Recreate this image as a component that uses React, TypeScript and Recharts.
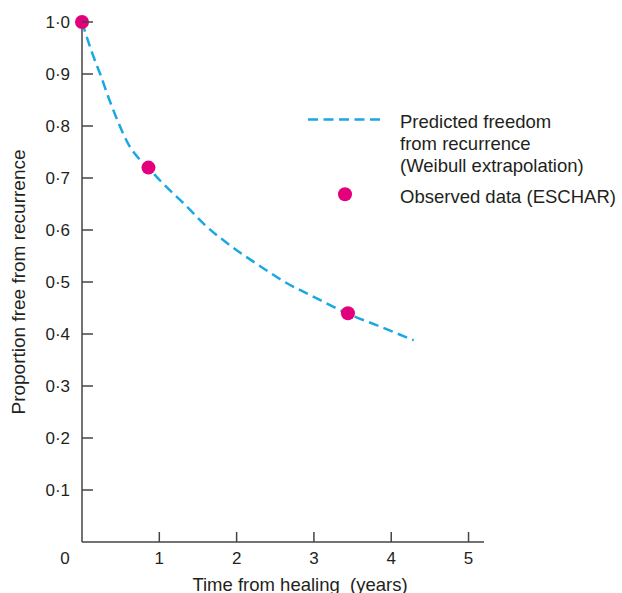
import {
  ComposedChart,
  Legend,
  Line,
  Scatter,
  XAxis,
  YAxis,
} from "recharts";

// Weibull curve
const curveYears = [0, 0.13, 0.24, 0.35, 0.475, 0.6, 0.75, 0.86, 1.03, 1.35, 1.61, 1.91, 2.32, 2.6, 2.99, 3.44, 3.81, 4.29];
const curveFree = [1.0, 0.941, 0.898, 0.852, 0.805, 0.765, 0.735, 0.719, 0.692, 0.646, 0.607, 0.571, 0.529, 0.502, 0.472, 0.439, 0.417, 0.388];

// ESCHAR observations
const observedYears = [0, 0.86, 3.44];
const observedFree = [1.0, 0.72, 0.44];

const xTicks = [0, 1, 2, 3, 4, 5];
const yTicks = [0.1, 0.2, 0.3, 0.4, 0.5, 0.6, 0.7, 0.8, 0.9, 1.0];

const lineLabel = ["Predicted freedom", "from recurrence", "(Weibull extrapolation)"];
const dotLabel = "Observed data (ESCHAR)";
const xTitle = "Time from healing  (years)";
const yTitle = "Proportion free from recurrence";

const curve = curveYears.map((t, i) => ({ t, s: curveFree[i] }));
const observed = observedYears.map((t, i) => ({ t, s: observedFree[i] }));

const FONT = "'Liberation Sans', Arial, Helvetica, sans-serif";
const INK = "#231f20";
const AXIS = "#444444";
const CYAN = "#1aa8e2";
const MAGENTA = "#e4007c";

const fmt = (v: number) => v.toFixed(1).replace(".", "\u00b7");

function YTick(props: any) {
  const { x, y, payload } = props;
  return (
    <g>
      <line x1={x + 12} x2={x + 23} y1={y} y2={y} stroke={AXIS} strokeWidth={1.5} />
      <text x={x} y={y} dy="0.36em" textAnchor="end" fontSize={17} fontFamily={FONT} fill={INK}>
        {fmt(payload.value)}
      </text>
    </g>
  );
}

function XTick(props: any) {
  const { x, y, payload } = props;
  const origin = payload.value === 0;
  return (
    <g>
      {!origin && (
        <line x1={x} x2={x} y1={y - 10} y2={y - 20} stroke={AXIS} strokeWidth={1.5} />
      )}
      <text x={origin ? x - 17 : x} y={y} dy="0.71em" textAnchor="middle" fontSize={17} fontFamily={FONT} fill={INK}>
        {payload.value}
      </text>
    </g>
  );
}

function LegendBox() {
  return (
    <svg width={322} height={115} style={{ display: "block" }}>
      <line x1={8} x2={82} y1={19.5} y2={19.5} stroke={CYAN} strokeWidth={2.5} strokeDasharray="10 5.5" />
      <text x={100} fontSize={18.5} fontFamily={FONT} fill={INK}>
        {lineLabel.map((l, i) => (
          <tspan key={l} x={100} y={28.3 + i * 21.7}>
            {l}
          </tspan>
        ))}
      </text>
      <circle cx={45} cy={94.3} r={7} fill={MAGENTA} />
      <text x={100} y={102.7} fontSize={18.5} fontFamily={FONT} fill={INK}>
        {dotLabel}
      </text>
    </svg>
  );
}

export default function App() {
  return (
    <div style={{ position: "absolute", left: 0, top: 0, background: "#fff" }}>
      <ComposedChart width={622} height={593} margin={{ top: 22, right: 138, bottom: 21, left: 22 }}>
        <XAxis
          type="number"
          dataKey="t"
          domain={[0, 5.2]}
          ticks={xTicks}
          allowDecimals
          height={30}
          tickSize={0}
          tickMargin={10}
          tickLine={false}
          axisLine={{ stroke: AXIS, strokeWidth: 1.5 }}
          tick={<XTick />}
          label={{
            content: ({ viewBox }: any) => (
              <text
                x={viewBox.x + viewBox.width / 2 + 17}
                y={viewBox.y + viewBox.height + 19}
                textAnchor="middle"
                fontSize={18.5}
                fontFamily={FONT}
                fill={INK}
                style={{ whiteSpace: "pre" }}
              >
                {xTitle}
              </text>
            ),
          }}
        />
        <YAxis
          type="number"
          dataKey="s"
          domain={[0, 1]}
          ticks={yTicks}
          width={60}
          tickSize={0}
          tickMargin={12}
          tickLine={false}
          axisLine={{ stroke: AXIS, strokeWidth: 1.5 }}
          tick={<YTick />}
          label={{
            content: ({ viewBox }: any) => {
              const cx = viewBox.x + 2.5;
              const cy = viewBox.y + viewBox.height / 2;
              return (
                <text
                  x={cx}
                  y={cy}
                  transform={`rotate(-90, ${cx}, ${cy})`}
                  textAnchor="middle"
                  fontSize={19}
                  fontFamily={FONT}
                  fill={INK}
                >
                  {yTitle}
                </text>
              );
            },
          }}
        />
        <Legend
          layout="vertical"
          align="center"
          verticalAlign="middle"
          wrapperStyle={{ left: 300, top: 100, width: 322, height: 115 }}
          content={() => <LegendBox />}
        />
        <Line
          data={curve}
          dataKey="s"
          name={lineLabel.join(" ")}
          type="monotone"
          stroke={CYAN}
          strokeWidth={2.5}
          strokeDasharray="10 5.5"
          dot={false}
          activeDot={false}
          isAnimationActive={false}
        />
        <Scatter
          data={observed}
          dataKey="s"
          name={dotLabel}
          fill={MAGENTA}
          isAnimationActive={false}
          shape={(p: any) => <circle cx={p.cx} cy={p.cy} r={7} fill={MAGENTA} />}
        />
      </ComposedChart>
    </div>
  );
}
